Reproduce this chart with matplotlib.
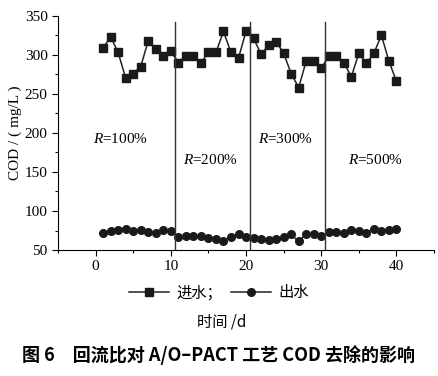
import matplotlib
matplotlib.use('Agg')
from matplotlib import pyplot as plt
from matplotlib.ticker import MultipleLocator

plt.rcParams['mathtext.fontset'] = 'custom'
plt.rcParams['mathtext.it'] = 'Liberation Serif:italic'
plt.rcParams['mathtext.rm'] = 'Liberation Serif'

days = list(range(1, 41))
inflow = [309, 323, 303, 270, 276, 285, 318, 308, 298, 305,
          290, 299, 298, 290, 303, 303, 330, 303, 296, 330,
          321, 301, 312, 317, 302, 276, 258, 292, 292, 283,
          298, 298, 290, 272, 302, 289, 302, 325, 292, 266]
outflow = [72, 74, 76, 77.5, 74, 75.5, 73.5, 71.5, 76, 74,
           66.5, 68, 68.5, 68, 65.5, 64, 62, 67, 70.5, 67,
           65.3, 63.7, 62.6, 63.7, 67, 70, 61, 70.5, 70, 68,
           73.5, 73, 72, 75.5, 75, 72, 77, 75, 75.5, 77]
stage_bounds = [10.5, 20.5, 30.5]
stage_labels = ['100%', '200%', '300%', '500%']
label_pos = [(-0.4, 192), (11.6, 165), (21.6, 192), (33.6, 165)]

serif = 'Liberation Serif'
cjk = ['Noto Sans CJK SC', 'DejaVu Sans']

fig = plt.figure(figsize=(4.38, 3.76), dpi=100)
ax = fig.add_axes([0.1324, 0.335, 0.8586, 0.623])

l1, = ax.plot(days, inflow, color='#222222', lw=1.1, marker='s', ms=6.2,
              mfc='#1a1a1a', mec='#1a1a1a')
l2, = ax.plot(days, outflow, color='#222222', lw=1.1, marker='o', ms=5.5,
              mfc='#1a1a1a', mec='#1a1a1a')

for b in stage_bounds:
    ax.plot([b, b], [50, 342], color='#333333', lw=1)

for (x, y), s in zip(label_pos, stage_labels):
    ax.text(x, y, '$R$=' + s, fontsize=11, family=serif,
            ha='left', va='center')

ax.set_xlim(-5, 45)
ax.set_ylim(50, 350)
ax.xaxis.set_major_locator(MultipleLocator(10))
ax.xaxis.set_minor_locator(MultipleLocator(5))
ax.yaxis.set_major_locator(MultipleLocator(50))
ax.yaxis.set_minor_locator(MultipleLocator(25))
ax.set_xticks(range(0, 41, 10))
ax.tick_params(which='major', direction='out', length=4, width=0.8, labelsize=11)
ax.tick_params(which='minor', direction='out', length=2.5, width=0.8)
for lab in ax.get_xticklabels() + ax.get_yticklabels():
    lab.set_family(serif)
ax.spines['top'].set_visible(False)
ax.spines['right'].set_visible(False)
ax.set_ylabel('COD / ( mg/L )', fontsize=11, family=serif, labelpad=2)

fig.legend([l1, l2], ['进水；', '出水'], loc='center', bbox_to_anchor=(0.5, 0.221),
           ncol=2, frameon=False, handlelength=2.6, columnspacing=0.6,
           handletextpad=0.5, prop={'family': cjk, 'size': 11})
fig.text(0.507, 0.143, '时间 /d', ha='center', va='center', fontsize=11, family=cjk)
fig.text(0.5, 0.056, '图 6　回流比对 A/O–PACT 工艺 COD 去除的影响', ha='center',
         va='center', fontsize=13, family=cjk, weight='bold')

fig.savefig('out.png', dpi=100)
